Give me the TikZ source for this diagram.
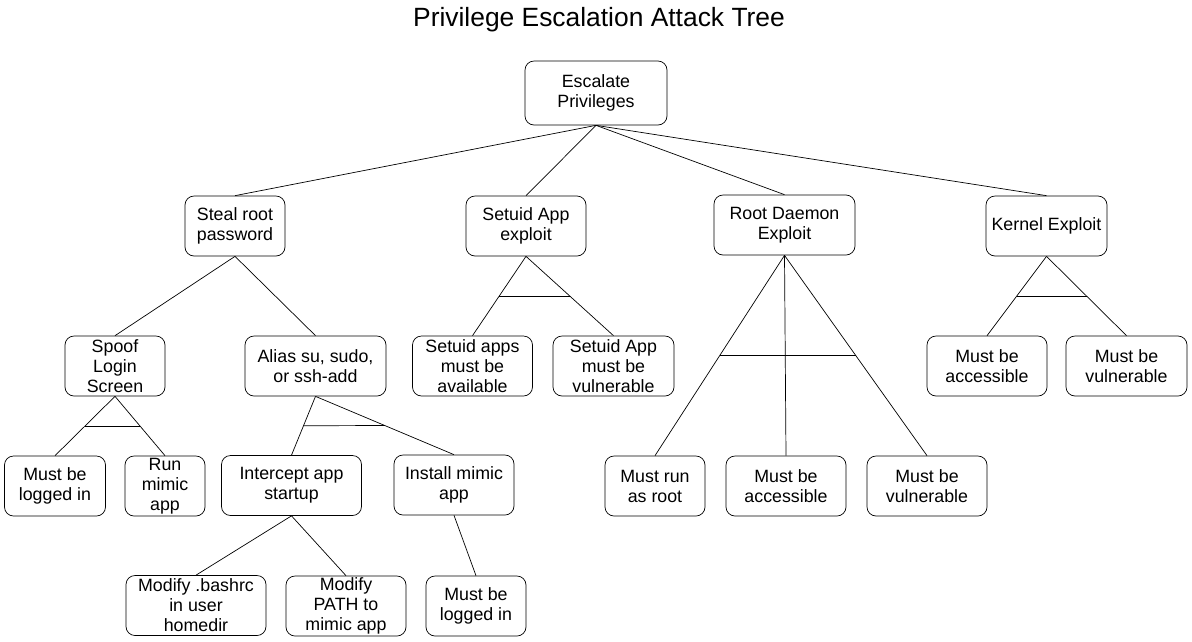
\documentclass[tikz,border=0pt]{standalone}
\usepackage{fontspec}
\setmainfont{Liberation Sans}
\usetikzlibrary{calc}
\tikzset{
  box/.style={draw, rounded corners=9pt, align=center, inner sep=0pt,
    minimum height=60pt, minimum width=#1},
  box/.default=120pt,
}

\begin{document}
\begin{tikzpicture}[x=1pt,y=-1pt,line width=0.7pt,font=\fontsize{17.8}{20}\selectfont]
        \useasboundingbox (0,0) rectangle (1192,641);

        \node[anchor=base,font=\fontsize{26.4}{30}\selectfont] (title) at (599,26) {Privilege Escalation Attack Tree};

        \node[box=142pt,minimum height=64pt] (root) at (596,93) {Escalate\\Privileges};

        \node[box=100pt] (steal) at (235,226) {Steal root\\password};
        \node[box=120pt] (setuid) at (526,226) {Setuid App\\exploit};
        \node[box=141pt] (daemon) at (784.5,225) {Root Daemon\\Exploit};
        \node[box=121pt] (kernel) at (1046.5,226) {Kernel Exploit};

        \node[box=100pt] (spoof) at (115,366) {Spoof\\Login\\Screen};
        \node[box=141pt] (alias) at (315.5,366) {Alias su, sudo,\\or ssh-add};
        \node[box=120pt] (sapps) at (472.5,366) {Setuid apps\\must be\\available};
        \node[box=121pt] (sappv) at (613.5,366) {Setuid App\\must be\\vulnerable};
        \node[box=120pt] (kacc) at (987,366) {Must be\\accessible};
        \node[box=121pt] (kvul) at (1126.5,366) {Must be\\vulnerable};

        \node[box=101pt] (login) at (55,486) {Must be\\logged in};
        \node[box=80pt] (runapp) at (165,486) {Run\\mimic\\app};
        \node[box=140pt] (intercept) at (291.5,485.5) {Intercept app\\startup};
        \node[box=120pt] (install) at (454,485) {Install mimic\\app};
        \node[box=100pt] (asroot) at (655,486) {Must run\\as root};
        \node[box=120pt] (dacc) at (786,486) {Must be\\accessible};
        \node[box=120pt] (dvul) at (927,486) {Must be\\vulnerable};

        \node[box=140pt] (bashrc) at (196,605.5) {Modify .bashrc\\in user\\homedir};
        \node[box=120pt] (path) at (346,606) {Modify\\PATH to\\mimic app};
        \node[box=100pt] (login2) at (476,606) {Must be\\logged in};

        \foreach \c in {steal,setuid,daemon,kernel}
            \draw (root.south) -- (\c.north);
        \foreach \p/\c in {steal/spoof, steal/alias, spoof/login, spoof/runapp,
                alias/intercept, alias/install, intercept/bashrc, intercept/path,
                install/login2, setuid/sapps, setuid/sappv, daemon/asroot,
                daemon/dacc, daemon/dvul, kernel/kacc, kernel/kvul}
            \draw (\p.south) -- (\c.north);

        \foreach \p/\a/\b in {spoof/login/runapp, alias/intercept/install,
                setuid/sapps/sappv, daemon/asroot/dvul, kernel/kacc/kvul}
            \draw ($(\p.south)!0.5!(\a.north)$) -- ($(\p.south)!0.5!(\b.north)$);
    \end{tikzpicture}
\end{document}
